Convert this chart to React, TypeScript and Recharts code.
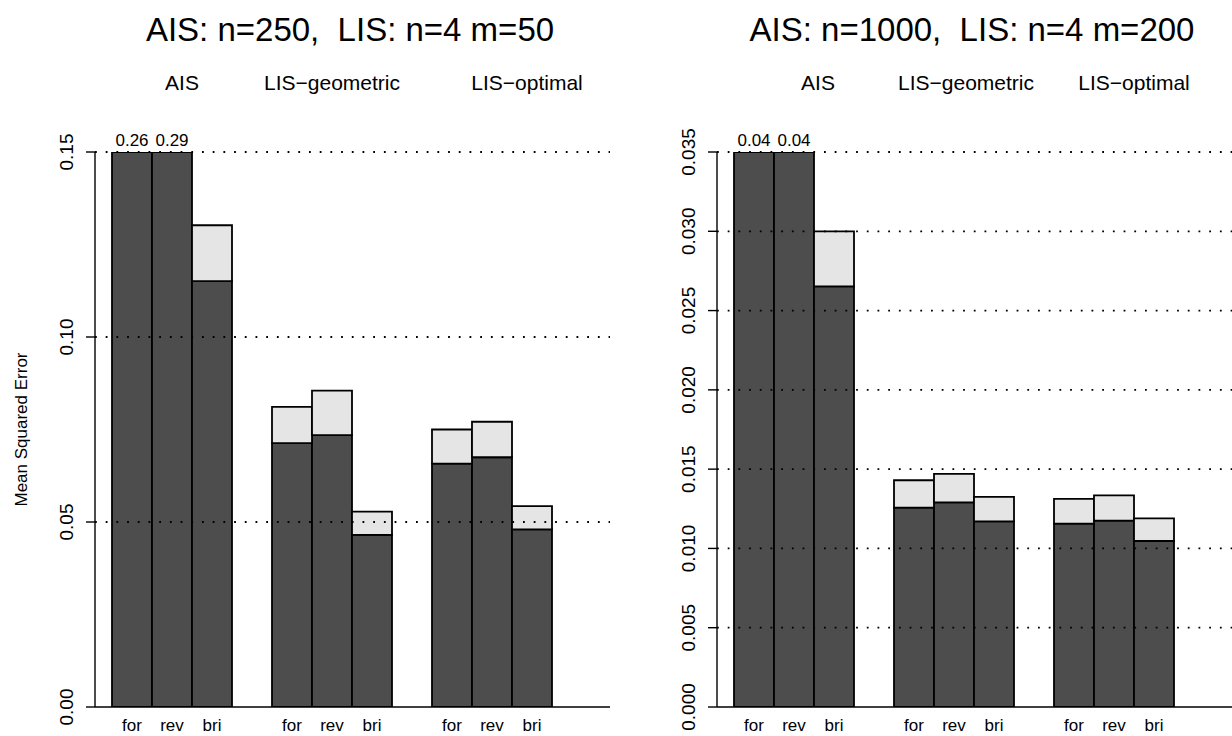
import React from 'react';
import { BarChart, Bar, XAxis, YAxis, ReferenceLine, LabelList, Label } from 'recharts';

// bar names and groups, same for both panels
const categories = ['for', 'rev', 'bri'];
const groups = ['AIS', 'LIS\u2212geometric', 'LIS\u2212optimal'];

// AIS n=250, LIS n=4 m=50 : total MSE and the dark (lower) part
const totals250 = [0.26, 0.29, 0.1302, 0.0811, 0.0855, 0.0528, 0.075, 0.0771, 0.0543];
const dark250 = [0.26, 0.29, 0.1151, 0.0713, 0.0735, 0.0465, 0.0658, 0.0675, 0.048];
const ticks250 = [0, 0.05, 0.1, 0.15];

// AIS n=1000, LIS n=4 m=200
const totals1000 = [0.04, 0.04, 0.03, 0.0143, 0.0147, 0.01325, 0.01312, 0.01335, 0.0119];
const dark1000 = [0.04, 0.04, 0.02653, 0.01257, 0.01291, 0.01171, 0.01156, 0.01175, 0.01047];
const ticks1000 = [0, 0.005, 0.01, 0.015, 0.02, 0.025, 0.03, 0.035];

const FONT = '"Liberation Sans", Arial, Helvetica, sans-serif';
const DARK = '#4d4d4d';
const LIGHT = '#e5e5e5';

// capped bars get their true value written above them
const buildRows = (totals: number[], dark: number[], cap: number) => {
  const rows: any[] = [];
  groups.forEach((g, gi) => {
    if (gi > 0) rows.push({ key: `gap${gi}`, dark: null, extra: null, note: '' });
    categories.forEach((c, ci) => {
      const i = gi * 3 + ci;
      const t = Math.min(totals[i], cap);
      const d = Math.min(dark[i], cap);
      rows.push({
        key: `${gi}-${c}`,
        dark: d,
        extra: t - d,
        note: totals[i] > cap ? totals[i].toFixed(2) : '',
      });
    });
  });
  return rows;
};

const XTick = (props: any) => {
  const { x, y, payload } = props;
  const parts = String(payload.value).split('-');
  const label = parts.length > 1 ? parts[1] : '';
  return (
    <text x={x} y={y} dy={16} textAnchor="middle" fontSize={17} fontFamily={FONT} fill="#000">
      {label}
    </text>
  );
};

const makeYTick = (digits: number) => (props: any) => {
  const { y, payload } = props;
  return (
    <text
      x={73}
      y={y}
      transform={`rotate(-90, 73, ${y})`}
      textAnchor="middle"
      fontSize={19}
      fontFamily={FONT}
      fill="#000"
    >
      {Number(payload.value).toFixed(digits)}
    </text>
  );
};

const Note = (props: any) => {
  const { x, y, width, value } = props;
  if (!value) return null;
  return (
    <text x={x + width / 2} y={y - 6} textAnchor="middle" fontSize={17} fontFamily={FONT} fill="#000">
      {value}
    </text>
  );
};

type PanelProps = {
  left: number;
  title: string;
  totals: number[];
  dark: number[];
  ticks: number[];
  digits: number;
  centers: number[];
  showYLabel?: boolean;
};

const Panel: React.FC<PanelProps> = ({ left, title, totals, dark, ticks, digits, centers, showYLabel }) => {
  const cap = ticks[ticks.length - 1];
  const rows = buildRows(totals, dark, cap);
  return (
    <div style={{ position: 'absolute', left, top: 0, width: 616, height: 736 }}>
      <div
        style={{
          position: 'absolute', left: 350 - 300, top: 13, width: 600, textAlign: 'center',
          fontFamily: FONT, fontSize: 33, lineHeight: '33px', whiteSpace: 'pre', color: '#000',
        }}
      >
        {title}
      </div>
      {groups.map((g, i) => (
        <div
          key={g}
          style={{
            position: 'absolute', left: centers[i] - 100, top: 72, width: 200, textAlign: 'center',
            fontFamily: FONT, fontSize: 21, lineHeight: '21px', color: '#000',
          }}
        >
          {g}
        </div>
      ))}
      <BarChart
        width={616}
        height={736}
        data={rows}
        margin={{ top: 152, right: 6, bottom: 0, left: 0 }}
        barCategoryGap={0}
        barGap={0}
      >
        <XAxis
          dataKey="key"
          axisLine={false}
          tickLine={false}
          height={29}
          interval={0}
          padding={{ left: 17, right: 58 }}
          tick={<XTick />}
        />
        <YAxis
          type="number"
          domain={[0, cap]}
          ticks={ticks}
          allowDataOverflow
          width={95}
          tickSize={9}
          axisLine={{ stroke: '#000', strokeWidth: 1.4 }}
          tickLine={{ stroke: '#000', strokeWidth: 1.4 }}
          tick={makeYTick(digits)}
        >
          {showYLabel && (
            <Label
              content={(p: any) => {
                const vb = p.viewBox;
                const cy = vb.y + vb.height / 2;
                return (
                  <text
                    x={27}
                    y={cy}
                    transform={`rotate(-90, 27, ${cy})`}
                    textAnchor="middle"
                    fontSize={17}
                    fontFamily={FONT}
                    fill="#000"
                  >
                    Mean Squared Error
                  </text>
                );
              }}
            />
          )}
        </YAxis>
        <Bar dataKey="dark" stackId="s" fill={DARK} stroke="#000" strokeWidth={1.8} isAnimationActive={false}>
          <LabelList dataKey="note" content={<Note />} />
        </Bar>
        <Bar dataKey="extra" stackId="s" fill={LIGHT} stroke="#000" strokeWidth={1.8} isAnimationActive={false} />
        {ticks.slice(1).map((t) => (
          <ReferenceLine key={t} y={t} stroke="#000" strokeWidth={1.8} strokeDasharray="1.8 8.9" ifOverflow="extendDomain" />
        ))}
        <ReferenceLine y={0} stroke="#000" strokeWidth={1.4} />
      </BarChart>
    </div>
  );
};

export default function App() {
  return (
    <div
      style={{
        position: 'absolute', left: 0, top: 0, width: 1232, height: 736,
        background: '#fff', overflow: 'hidden',
      }}
    >
      <Panel
        left={0}
        title={'AIS: n=250,  LIS: n=4 m=50'}
        totals={totals250}
        dark={dark250}
        ticks={ticks250}
        digits={2}
        centers={[182, 332, 527]}
        showYLabel
      />
      <Panel
        left={622}
        title={'AIS: n=1000,  LIS: n=4 m=200'}
        totals={totals1000}
        dark={dark1000}
        ticks={ticks1000}
        digits={3}
        centers={[196, 344, 512]}
      />
    </div>
  );
}
